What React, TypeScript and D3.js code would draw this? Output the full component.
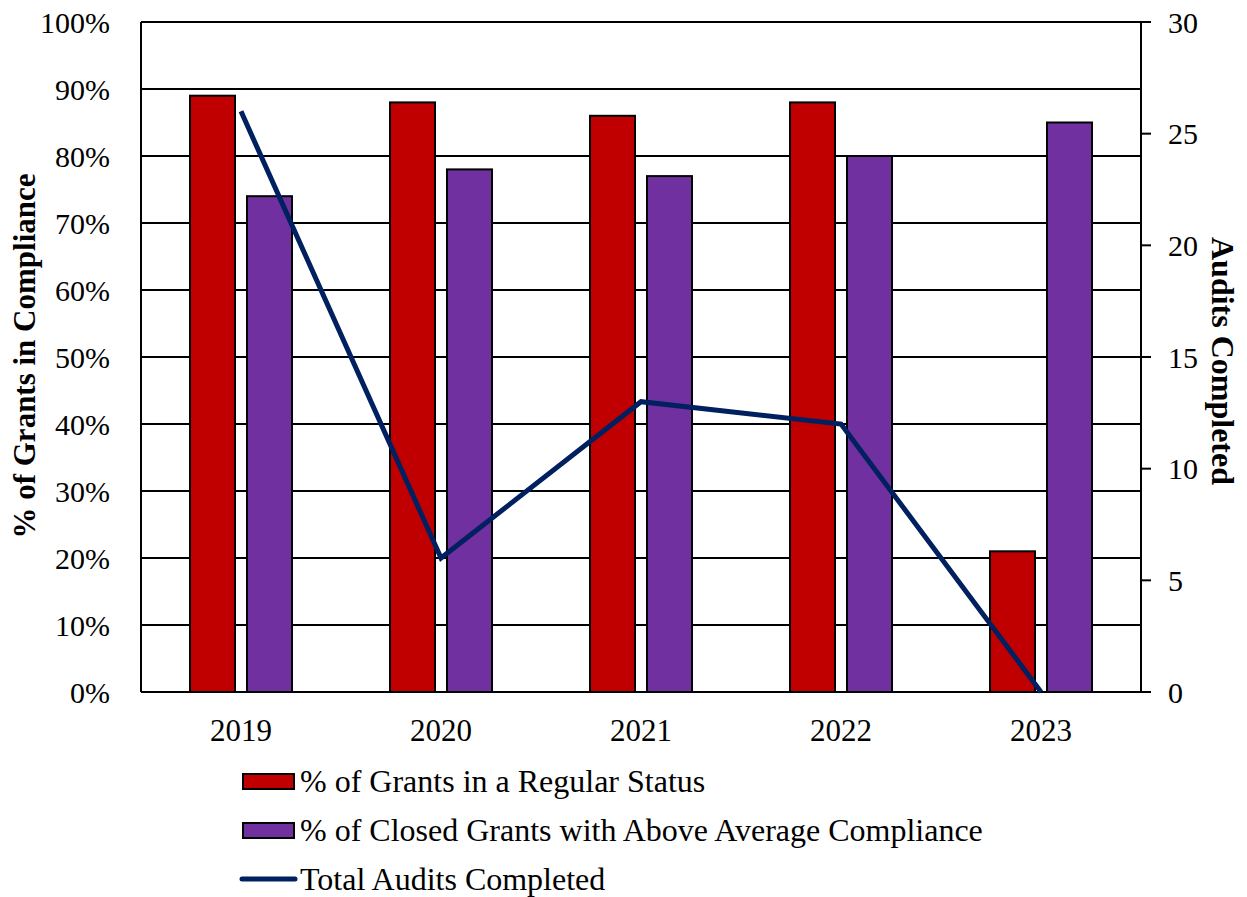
import { useEffect, useRef } from "react";
import * as d3 from "d3";

const years = ["2019", "2020", "2021", "2022", "2023"];
const regularStatus = [89, 88, 86, 88, 21];
const aboveAverage = [74, 78, 77, 80, 85];
const auditsCompleted = [26, 6, 13, 12, 0];
const leftTicks = [0, 10, 20, 30, 40, 50, 60, 70, 80, 90, 100];
const rightTicks = [0, 5, 10, 15, 20, 25, 30];

const RED = "#C00000";
const PURPLE = "#7030A0";
const NAVY = "#002060";
const FONT = "Liberation Serif, Times New Roman, Times, serif";

export default function App() {
  const svgRef = useRef<SVGSVGElement | null>(null);

  useEffect(() => {
    if (!svgRef.current) return;
    const svg = d3.select(svgRef.current);
    svg.selectAll("*").remove();

    const left = 141;
    const right = 1141;
    const top = 22;
    const bottom = 692;

    const x = d3.scaleBand<string>().domain(years).range([left, right]);
    const yLeft = d3.scaleLinear().domain([0, 100]).range([bottom, top]);
    const yRight = d3.scaleLinear().domain([0, 30]).range([bottom, top]);

    // gridlines
    svg
      .append("g")
      .selectAll("line")
      .data(leftTicks.filter((t) => t > 0))
      .join("line")
      .attr("x1", left)
      .attr("x2", right)
      .attr("y1", (d) => yLeft(d))
      .attr("y2", (d) => yLeft(d))
      .attr("stroke", "#000")
      .attr("stroke-width", 2);

    // bars
    const barW = 45;
    const gap = 12;
    const groups = svg.append("g");
    years.forEach((yr, i) => {
      const cx = x(yr)! + x.bandwidth() / 2;
      groups
        .append("rect")
        .attr("x", cx - gap / 2 - barW)
        .attr("y", yLeft(regularStatus[i]))
        .attr("width", barW)
        .attr("height", bottom - yLeft(regularStatus[i]))
        .attr("fill", RED)
        .attr("stroke", "#000")
        .attr("stroke-width", 2);
      groups
        .append("rect")
        .attr("x", cx + gap / 2)
        .attr("y", yLeft(aboveAverage[i]))
        .attr("width", barW)
        .attr("height", bottom - yLeft(aboveAverage[i]))
        .attr("fill", PURPLE)
        .attr("stroke", "#000")
        .attr("stroke-width", 2);
    });

    // axes lines
    svg.append("line").attr("x1", left).attr("x2", left).attr("y1", top).attr("y2", bottom).attr("stroke", "#000").attr("stroke-width", 2);
    svg.append("line").attr("x1", right).attr("x2", right).attr("y1", top).attr("y2", bottom).attr("stroke", "#000").attr("stroke-width", 2);
    svg.append("line").attr("x1", left).attr("x2", right).attr("y1", bottom).attr("y2", bottom).attr("stroke", "#000").attr("stroke-width", 2);

    // right ticks
    svg
      .append("g")
      .selectAll("line")
      .data(rightTicks)
      .join("line")
      .attr("x1", right)
      .attr("x2", right + 10)
      .attr("y1", (d) => yRight(d))
      .attr("y2", (d) => yRight(d))
      .attr("stroke", "#000")
      .attr("stroke-width", 2);

    // line series
    const line = d3
      .line<number>()
      .x((_, i) => x(years[i])! + x.bandwidth() / 2)
      .y((d) => yRight(d));
    svg
      .append("path")
      .datum(auditsCompleted)
      .attr("d", line)
      .attr("fill", "none")
      .attr("stroke", NAVY)
      .attr("stroke-width", 5);

    const text = svg.append("g").style("font-family", FONT).attr("fill", "#000");

    text
      .selectAll("text.lt")
      .data(leftTicks)
      .join("text")
      .attr("x", 110)
      .attr("y", (d) => yLeft(d))
      .attr("dy", "0.35em")
      .attr("text-anchor", "end")
      .attr("font-size", 30)
      .text((d) => `${d}%`);

    text
      .selectAll("text.rt")
      .data(rightTicks)
      .join("text")
      .attr("x", 1168)
      .attr("y", (d) => yRight(d))
      .attr("dy", "0.35em")
      .attr("font-size", 30)
      .text((d) => d);

    text
      .selectAll("text.xt")
      .data(years)
      .join("text")
      .attr("x", (d) => x(d)! + x.bandwidth() / 2)
      .attr("y", 741)
      .attr("text-anchor", "middle")
      .attr("font-size", 31)
      .text((d) => d);

    text
      .append("text")
      .attr("transform", `translate(35,${(top + bottom) / 2 - 1}) rotate(-90)`)
      .attr("text-anchor", "middle")
      .attr("font-size", 31)
      .attr("font-weight", "bold")
      .text("% of Grants in Compliance");

    text
      .append("text")
      .attr("transform", `translate(1212,${(top + bottom) / 2 + 4}) rotate(90)`)
      .attr("text-anchor", "middle")
      .attr("font-size", 32)
      .attr("font-weight", "bold")
      .text("Audits Completed");

    // legend
    const legend = [
      { label: "% of Grants in a Regular Status", type: "rect", color: RED },
      { label: "% of Closed Grants with Above Average Compliance", type: "rect", color: PURPLE },
      { label: "Total Audits Completed", type: "line", color: NAVY },
    ];
    legend.forEach((item, i) => {
      const cy = 781 + i * 49;
      if (item.type === "rect") {
        svg
          .append("rect")
          .attr("x", 243)
          .attr("y", cy - 7)
          .attr("width", 51)
          .attr("height", 15)
          .attr("fill", item.color)
          .attr("stroke", "#000")
          .attr("stroke-width", 2);
      } else {
        svg
          .append("line")
          .attr("x1", 242)
          .attr("x2", 295)
          .attr("y1", cy)
          .attr("y2", cy)
          .attr("stroke", item.color)
          .attr("stroke-width", 5)
          .attr("stroke-linecap", "round");
      }
      text
        .append("text")
        .attr("x", 300)
        .attr("y", cy)
        .attr("dy", "0.35em")
        .attr("font-size", 32)
        .text(item.label);
    });
  }, []);

  return <svg ref={svgRef} width={1247} height={897} style={{ position: "absolute", left: 0, top: 0 }} />;
}
